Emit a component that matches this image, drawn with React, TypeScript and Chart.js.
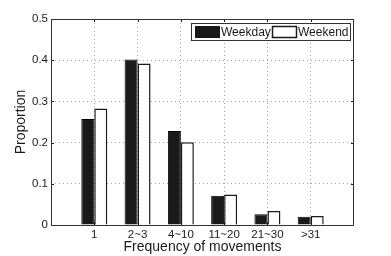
import React, { useEffect, useRef } from "react";
import { Chart, registerables } from "chart.js";

Chart.register(...registerables);

const categories = ["", "1", "2~3", "4~10", "11~20", "21~30", ">31", ""];
const weekday = [null, 0.257, 0.402, 0.228, 0.071, 0.026, 0.02, null];
const weekend = [null, 0.283, 0.392, 0.201, 0.074, 0.034, 0.022, null];
const yTicks = [0, 0.1, 0.2, 0.3, 0.4, 0.5];
const legendLabels = ["Weekday", "Weekend"];

const FONT = "'Liberation Sans', Arial, Helvetica, sans-serif";
const INK = "#1a1a1a";
const GRID = "#a8a8a8";

const frameLegend = {
  id: "frameLegend",
  afterDraw(chart: any) {
    const { ctx, chartArea: a, scales } = chart;
    ctx.save();
    ctx.strokeStyle = INK;
    ctx.lineWidth = 1;
    const tl = 3;
    yTicks.slice(1, -1).forEach((v) => {
      const y = Math.round(scales.y.getPixelForValue(v)) + 0.5;
      ctx.beginPath();
      ctx.moveTo(a.left, y);
      ctx.lineTo(a.left + tl, y);
      ctx.moveTo(a.right, y);
      ctx.lineTo(a.right - tl, y);
      ctx.stroke();
    });
    for (let i = 1; i < categories.length - 1; i++) {
      const x = Math.round(scales.x.getPixelForTick(i)) + 0.5;
      ctx.beginPath();
      ctx.moveTo(x, a.top);
      ctx.lineTo(x, a.top + tl);
      ctx.moveTo(x, a.bottom);
      ctx.lineTo(x, a.bottom - tl);
      ctx.stroke();
    }
    ctx.strokeStyle = "#333";
    ctx.strokeRect(Math.round(a.left) + 0.5, Math.round(a.top) + 0.5, Math.round(a.right - a.left) - 1, Math.round(a.bottom - a.top));
    const lx = 191, ly = 23, lw = 159, lh = 17;
    ctx.fillStyle = "#fff";
    ctx.fillRect(lx, ly, lw, lh);
    ctx.strokeStyle = "#333";
    ctx.strokeRect(lx + 0.5, ly + 0.5, lw, lh);
    ctx.font = `12px ${FONT}`;
    ctx.textBaseline = "middle";
    ctx.fillStyle = INK;
    ctx.fillRect(195, 26, 25, 12);
    ctx.fillText(legendLabels[0], 221, ly + lh / 2 + 1);
    ctx.fillStyle = "#fff";
    ctx.fillRect(272, 26, 25, 12);
    ctx.lineWidth = 1.5;
    ctx.strokeStyle = INK;
    ctx.strokeRect(272.5, 26.5, 24, 11);
    ctx.fillStyle = INK;
    ctx.fillText(legendLabels[1], 298, ly + lh / 2 + 1);
    ctx.restore();
  },
};

export default function App() {
  const ref = useRef<HTMLCanvasElement>(null);
  useEffect(() => {
    document.body.style.margin = "0";
    const chart = new Chart(ref.current!, {
      type: "bar",
      data: {
        labels: categories,
        datasets: [
          {
            label: legendLabels[0],
            data: weekday as any,
            backgroundColor: INK,
            borderColor: "#000",
            borderWidth: 1,
            categoryPercentage: 0.6,
            barPercentage: 1.0,
          },
          {
            label: legendLabels[1],
            data: weekend as any,
            backgroundColor: "#fff",
            borderColor: INK,
            borderWidth: 1.5,
            categoryPercentage: 0.6,
            barPercentage: 1.0,
          },
        ],
      },
      options: {
        responsive: false,
        animation: false,
        layout: { padding: { top: 19, right: 37, left: 0, bottom: 0 } },
        plugins: { legend: { display: false }, tooltip: { enabled: false } },
        scales: {
          x: {
            type: "category",
            offset: false,
            grid: {
              offset: false,
              drawTicks: false,
              color: (c: any) => (c.index > 0 && c.index < categories.length - 1 ? GRID : "rgba(0,0,0,0)"),
            } as any,
            border: { display: false, dash: [1, 3] },
            ticks: {
              autoSkip: false,
              maxRotation: 0,
              padding: 3,
              color: INK,
              font: { family: FONT, size: 11.5 },
            },
            title: {
              display: true,
              text: "Frequency of movements",
              color: INK,
              font: { family: FONT, size: 14 },
              padding: { top: -2, bottom: 0 },
            },
            afterFit: (s: any) => {
              s.height = 31;
            },
          },
          y: {
            min: 0,
            max: 0.5,
            afterBuildTicks: (s: any) => {
              s.ticks = yTicks.map((v) => ({ value: v }));
            },
            grid: {
              drawTicks: false,
              color: (c: any) => (c.tick && c.tick.value > 0 && c.tick.value < 0.5 ? GRID : "rgba(0,0,0,0)"),
            },
            border: { display: false, dash: [1, 3] },
            ticks: {
              padding: 3,
              color: INK,
              font: { family: FONT, size: 11.5 },
              callback: (v: any) => (v === 0 ? "0" : Number(v).toFixed(1)),
            },
            title: {
              display: true,
              text: "Proportion",
              color: INK,
              font: { family: FONT, size: 14 },
              padding: { top: 13, bottom: 0 },
            },
            afterFit: (s: any) => {
              s.width = 51;
            },
          },
        },
      },
      plugins: [frameLegend],
    });
    return () => chart.destroy();
  }, []);
  return <canvas ref={ref} width={391} height={256} style={{ display: "block" }} />;
}
